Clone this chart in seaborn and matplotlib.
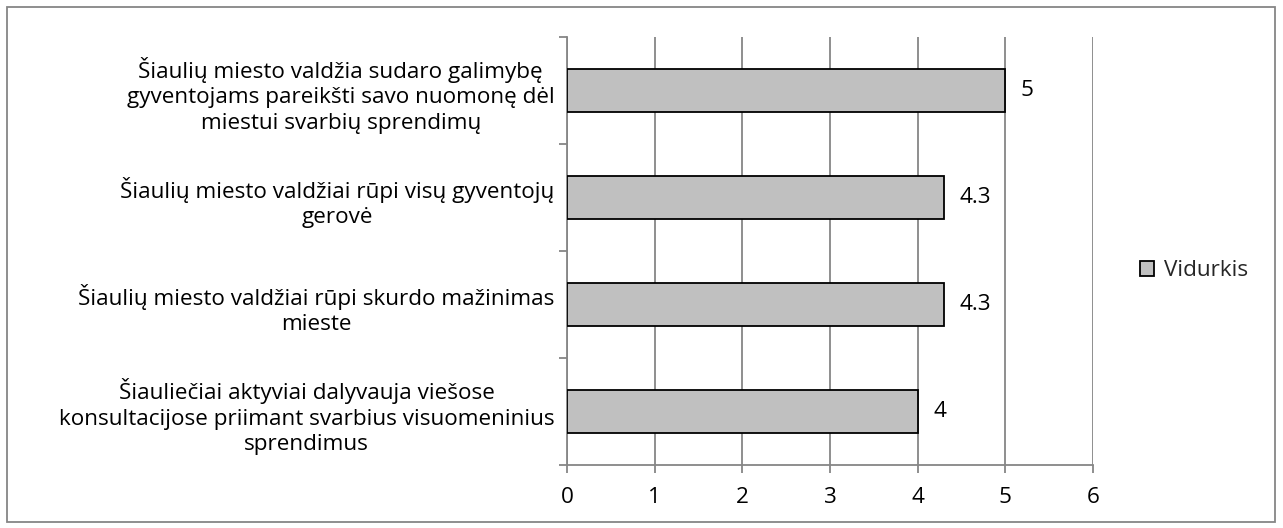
import matplotlib
matplotlib.use("Agg")
import matplotlib.pyplot as plt
import seaborn as sns
import pandas as pd
from matplotlib.patches import Rectangle

categories = [
    "Šiaulių miesto valdžia sudaro galimybę\ngyventojams pareikšti savo nuomonę dėl\nmiestui svarbių sprendimų",
    "Šiaulių miesto valdžiai rūpi visų gyventojų\ngerovė",
    "Šiaulių miesto valdžiai rūpi skurdo mažinimas\nmieste",
    "Šiauliečiai aktyviai dalyvauja viešose\nkonsultacijose priimant svarbius visuomeninius\nsprendimus",
]
values = [5, 4.3, 4.3, 4]
value_labels = ["5", "4.3", "4.3", "4"]
series_name = "Vidurkis"
x_ticks = [0, 1, 2, 3, 4, 5, 6]

sns.set_theme(style="white")
plt.rcParams['font.family'] = ['Open Sans', 'DejaVu Sans']
FS = 16.2

df = pd.DataFrame({"cat": categories, "val": values, "series": series_name})

fig = plt.figure(figsize=(12.83, 5.28), dpi=100)
ax = fig.add_axes([0.442, 0.119, 0.410, 0.811])

grid_c = "#868686"
sns.barplot(data=df, y="cat", x="val", hue="series", orient="h", ax=ax,
            palette=["#C0C0C0"], edgecolor="black", linewidth=1.3, width=0.4,
            legend=False, zorder=3)

ax.set_xlim(0, 6)
ax.set_ylim(3.5, -0.5)
ax.set_xticks(x_ticks)
ax.set_xticklabels([str(t) for t in x_ticks], fontsize=FS, color="black")
ax.set_xlabel("")
ax.set_ylabel("")
ax.grid(axis="x", color=grid_c, linewidth=1.3, zorder=0)
ax.set_axisbelow(True)

for s in ["top", "right"]:
    ax.spines[s].set_visible(False)
for s in ["left", "bottom"]:
    ax.spines[s].set_color(grid_c)
    ax.spines[s].set_linewidth(1.3)

ax.set_yticks([-0.5, 0.5, 1.5, 2.5, 3.5], minor=True)
ax.tick_params(axis="y", which="minor", length=6, width=1.3, color=grid_c, direction="out", left=True)
ax.tick_params(axis="y", which="major", length=0, pad=9)
ax.tick_params(axis="x", which="major", length=6, width=1.3, color=grid_c, direction="out", bottom=True, pad=10)
for lbl in ax.get_yticklabels():
    lbl.set_fontsize(FS)
    lbl.set_multialignment("center")
    lbl.set_color("black")
    lbl.set_linespacing(1.3)

for i, (v, t) in enumerate(zip(values, value_labels)):
    ax.annotate(t, xy=(v, i), xytext=(11, 0), textcoords="offset points",
                va="center", ha="left", fontsize=FS, color="black")

handle = Rectangle((0, 0), 1, 1, facecolor="#C0C0C0", edgecolor="black", linewidth=1.3)
fig.legend([handle], [series_name], loc="center left", bbox_to_anchor=(0.873, 0.487),
           frameon=False, fontsize=FS, handlelength=0.6, handleheight=0.6, handletextpad=0.45)

border = Rectangle((0.0055, 0.012), 0.988, 0.975, transform=fig.transFigure,
                   fill=False, edgecolor="#868686", linewidth=1.3)
fig.patches.append(border)

fig.savefig("out.png", dpi=100)
